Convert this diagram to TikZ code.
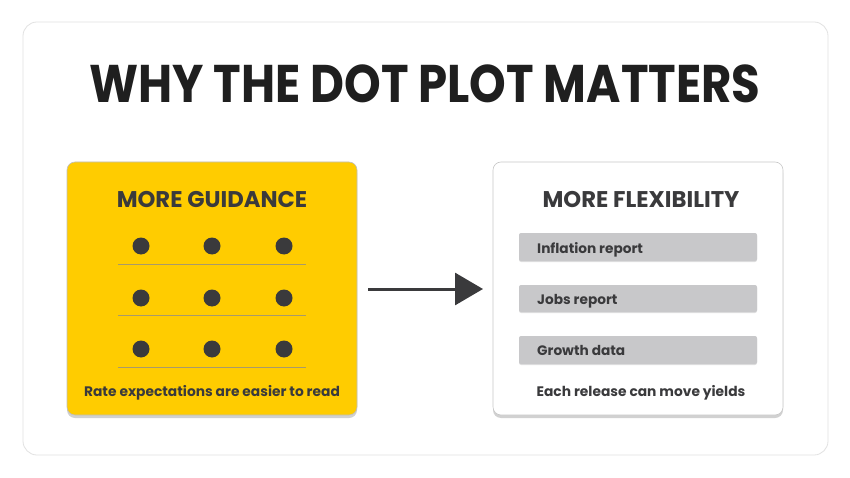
\documentclass[tikz,border=0pt]{standalone}
\usepackage{fontspec}
\setmainfont{Poppins}
\usetikzlibrary{shadows,arrows.meta}
\definecolor{ink}{HTML}{3A3A3C}
\definecolor{gold}{HTML}{FFCC00}
\definecolor{barg}{HTML}{C8C8CA}
\definecolor{frame}{HTML}{E2E2E2}
\definecolor{rule}{HTML}{A89A6A}
\tikzset{
  card/.style={rounded corners=8pt, line width=0.6pt,
    drop shadow={shadow xshift=0pt, shadow yshift=-3pt, opacity=0.18, fill=black}},
  heading/.style={font=\bfseries\fontsize{22.7}{26}\selectfont, text=ink},
  caption/.style={font=\bfseries\fontsize{13.8}{16}\selectfont, text=ink},
  bar/.style={fill=barg, rounded corners=2pt,
    drop shadow={shadow xshift=0pt, shadow yshift=-1pt, opacity=0.12, fill=black}},
  bartext/.style={font=\bfseries\fontsize{13.7}{16}\selectfont, text=ink, anchor=base west, inner sep=0pt},
  dot/.style={circle, fill=ink, minimum size=17pt, inner sep=0pt},
  ruleline/.style={draw=rule, line width=1pt},
}
\begin{document}
\begin{tikzpicture}[x=1pt,y=-1pt]
\useasboundingbox (0,0) rectangle (850,478);
\fill[white] (0,0) rectangle (850,478);
\draw[frame, fill=white, rounded corners=14pt, line width=0.8pt] (23,22) rectangle (828,455);
\node[font=\bfseries\fontsize{53}{60}\selectfont, text=black!88, xscale=0.88] (title) at (425,84) {WHY THE DOT PLOT MATTERS};
% left card
\path[card, fill=gold, draw=black!25] (67,162) rectangle (357,415);
\node[heading] (lh) at (212,199) {MORE GUIDANCE};
\foreach \r/\y in {1/246,2/298,3/349}{
  \foreach \c/\x in {1/141,2/212,3/284}{
    \node[dot] (d\r\c) at (\x,\y) {};
  }
}
\coordinate (l1a) at (118,264); \coordinate (l1b) at (306,264);
\coordinate (l2a) at (118,315); \coordinate (l2b) at (306,315);
\coordinate (l3a) at (118,367); \coordinate (l3b) at (306,367);
\draw[ruleline] (l1a) -- (l1b);
\draw[ruleline] (l2a) -- (l2b);
\draw[ruleline] (l3a) -- (l3b);
\node[caption] (lc) at (212,393) {Rate expectations are easier to read};
% right card
\path[card, fill=white, draw=black!22] (493,162) rectangle (783,415);
\node[heading] (rh) at (641,199) {MORE FLEXIBILITY};
\path[bar] (519,233) rectangle (757,261);
\path[bar] (519,285) rectangle (757,312);
\path[bar] (519,336) rectangle (757,364);
\node[bartext] (b1) at (537,253) {Inflation report};
\node[bartext] (b2) at (537,304) {Jobs report};
\node[bartext] (b3) at (537,355.5) {Growth data};
\node[caption] (rc) at (641,393) {Each release can move yields};
% arrow
\coordinate (as) at (368,289);
\coordinate (ae) at (483,289);
\draw[ink, line width=3pt, -{Triangle[length=28pt,width=32pt]}] (as) -- (ae);
\end{tikzpicture}
\end{document}
